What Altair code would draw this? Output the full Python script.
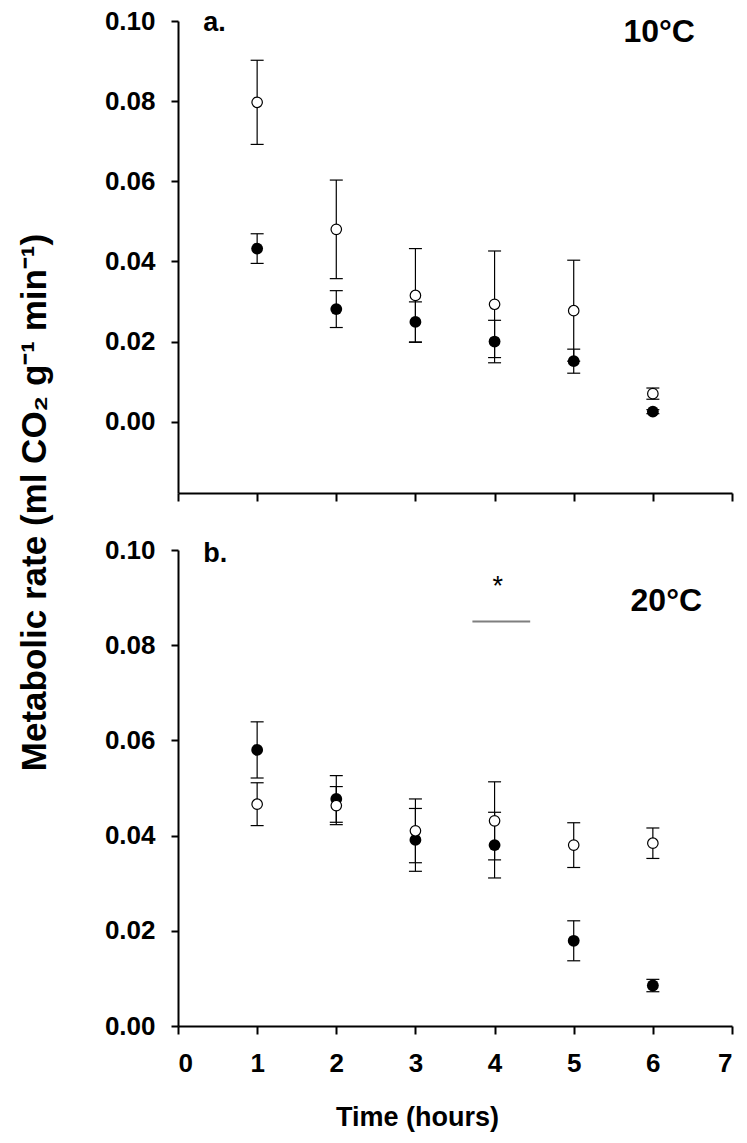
import altair as alt
import pandas as pd

# ---------------- data ----------------
hours = [1, 2, 3, 4, 5, 6]

# panel a (10 °C)
a_open_mean = [0.0797, 0.0480, 0.0315, 0.0293, 0.0277, 0.0070]
a_open_se = [0.0105, 0.0123, 0.0117, 0.0133, 0.0126, 0.0014]
a_closed_mean = [0.0432, 0.0281, 0.0249, 0.0200, 0.0151, 0.0025]
a_closed_se = [0.0037, 0.0046, 0.0050, 0.0053, 0.0030, 0.0005]

# panel b (20 °C)
b_open_mean = [0.0466, 0.0463, 0.0410, 0.0431, 0.0380, 0.0384]
b_open_se = [0.0045, 0.0040, 0.0067, 0.0082, 0.0047, 0.0032]
b_closed_mean = [0.0580, 0.0477, 0.0391, 0.0380, 0.0179, 0.0085]
b_closed_se = [0.0059, 0.0049, 0.0066, 0.0069, 0.0042, 0.0013]

y_ticks = [0.0, 0.02, 0.04, 0.06, 0.08, 0.10]
x_ticks = [0, 1, 2, 3, 4, 5, 6, 7]

a_label = ["a."]
a_label_pos = [0.32, 0.0974]
a_temp = ["10°C"]
a_temp_pos = [6.08, 0.0972]

b_label = ["b."]
b_label_pos = [0.32, 0.0975]
b_temp = ["20°C"]
b_temp_pos = [6.17, 0.0893]

sig_line_x = [3.72, 4.45]
sig_line_y = [0.085]
sig_mark = ["*"]
sig_mark_pos = [4.04, 0.0905]

y_title = "Metabolic rate (ml CO₂ g⁻¹ min⁻¹)"
x_title = "Time (hours)"

FONT = "Liberation Sans"


def panel_df(om, ose, cm, cse):
    rows = []
    for h, m, s in zip(hours, cm, cse):
        rows.append(dict(hour=h, mean=m, lo=m - s, hi=m + s, group="closed"))
    for h, m, s in zip(hours, om, ose):
        rows.append(dict(hour=h, mean=m, lo=m - s, hi=m + s, group="open"))
    return pd.DataFrame(rows)


def make_panel(df, ydomain, height, show_x, show_ytitle, label, label_pos,
               temp, temp_pos, extras=None):
    xaxis = alt.Axis(
        values=x_ticks, labels=show_x, title=x_title if show_x else None,
        grid=False, domainColor="black", domainWidth=2, tickColor="black",
        tickWidth=2, tickSize=8, labelFont=FONT, labelFontSize=26,
        labelFontWeight="bold", labelColor="black", labelPadding=16,
        titleFont=FONT, titleFontSize=27, titleFontWeight="bold",
        titleColor="black", titleX=239, titleY=99,
        titleBaseline="alphabetic",
    )
    yaxis_kwargs = dict(
        values=y_ticks, format=".2f", grid=False, domainColor="black",
        domainWidth=2, tickColor="black", tickWidth=2, tickSize=7,
        labelFont=FONT, labelFontSize=26, labelFontWeight="bold",
        labelColor="black", labelPadding=16,
    )
    if show_ytitle:
        yaxis = alt.Axis(
            title=y_title, titleFont=FONT, titleFontSize=35,
            titleFontWeight="bold", titleColor="black", titleX=-133,
            titleY=481, titleBaseline="alphabetic", titleAngle=270,
            **yaxis_kwargs)
    else:
        yaxis = alt.Axis(title=None, **yaxis_kwargs)

    xs = alt.Scale(domain=[0, 7], nice=False, zero=False)
    ys = alt.Scale(domain=ydomain, nice=False, zero=False)

    def X(f):
        return alt.X(f, type="quantitative", scale=xs, axis=xaxis)

    def Y(f):
        return alt.Y(f, type="quantitative", scale=ys, axis=yaxis)

    base = alt.Chart(df)
    bars = base.mark_rule(color="black", strokeWidth=1.2).encode(
        x=X("hour"), y=Y("lo"), y2="hi")
    cap_lo = base.mark_rule(color="black", strokeWidth=1.2, xOffset=-6.5,
                            x2Offset=6.5).encode(
        x=X("hour"), x2="hour", y=Y("lo"))
    cap_hi = base.mark_rule(color="black", strokeWidth=1.2, xOffset=-6.5,
                            x2Offset=6.5).encode(
        x=X("hour"), x2="hour", y=Y("hi"))
    closed = base.transform_filter(alt.datum.group == "closed").mark_point(
        shape="circle", filled=True, size=140, color="black",
        opacity=1).encode(x=X("hour"), y=Y("mean"))
    opened = base.transform_filter(alt.datum.group == "open").mark_point(
        shape="circle", filled=True, size=110, fill="white",
        stroke="black", strokeWidth=1.2, opacity=1).encode(
        x=X("hour"), y=Y("mean"))

    lab_df = pd.DataFrame({"t": label, "x": [label_pos[0]], "y": [label_pos[1]]})
    lab = alt.Chart(lab_df).mark_text(
        font=FONT, fontSize=27, fontWeight="bold", color="black",
        align="left", baseline="alphabetic").encode(
        x=X("x"), y=Y("y"), text="t:N")
    tmp_df = pd.DataFrame({"t": temp, "x": [temp_pos[0]], "y": [temp_pos[1]]})
    tmp = alt.Chart(tmp_df).mark_text(
        font=FONT, fontSize=32, fontWeight="bold", color="black",
        align="center", baseline="middle").encode(
        x=X("x"), y=Y("y"), text="t:N")

    layers = [bars, cap_lo, cap_hi, closed, opened, lab, tmp]
    if extras:
        layers += extras(X, Y)
    return alt.layer(*layers).properties(width=554, height=height)


def b_extras(X, Y):
    ldf = pd.DataFrame({"x0": [sig_line_x[0]], "x1": [sig_line_x[1]],
                        "y": sig_line_y})
    line = alt.Chart(ldf).mark_rule(color="#7f7f7f", strokeWidth=2).encode(
        x=X("x0"), x2="x1", y=Y("y"))
    sdf = pd.DataFrame({"t": sig_mark, "x": [sig_mark_pos[0]],
                        "y": [sig_mark_pos[1]]})
    star = alt.Chart(sdf).mark_text(
        font=FONT, fontSize=27, color="black", align="center",
        baseline="alphabetic").encode(x=X("x"), y=Y("y"), text="t:N")
    return [line, star]


top = make_panel(panel_df(a_open_mean, a_open_se, a_closed_mean, a_closed_se),
                 [-0.0178, 0.10], 472, False, True, a_label, a_label_pos,
                 a_temp, a_temp_pos)
bottom = make_panel(panel_df(b_open_mean, b_open_se, b_closed_mean, b_closed_se),
                    [0.0, 0.10], 476, True, False, b_label, b_label_pos,
                    b_temp, b_temp_pos, extras=b_extras)

chart = alt.vconcat(top, bottom, spacing=57, bounds="flush").properties(
    padding={"left": 9, "top": 0, "right": 5, "bottom": 5},
    background="white",
).configure_view(stroke=None)

chart.save("out.html", embed_options={"renderer": "svg", "actions": False})
